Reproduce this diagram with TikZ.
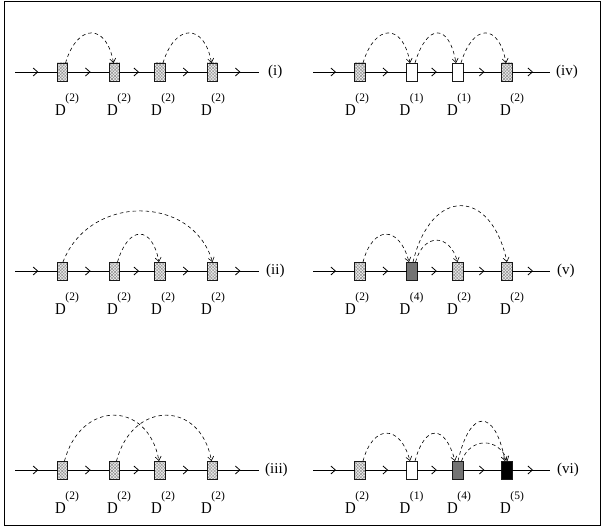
\documentclass[tikz,border=0pt]{standalone}
\usepackage{fontspec}
\setmainfont{Liberation Serif}
\usetikzlibrary{arrows.meta,decorations.markings,patterns,patterns.meta}

\newcommand\supfont{\fontsize{11.5}{11.5}\selectfont}
\newcommand\dfont{\fontsize{16.5}{16.5}\selectfont}
\newcommand\lfont{\fontsize{15}{15}\selectfont}

\tikzset{
  x=1pt, y=-1pt,
  boxbase/.style={draw=black!90, line width=0.7pt, minimum width=10.5pt, minimum height=18pt, inner sep=0pt, outer sep=0pt},
  boxH/.style={boxbase,
    preaction={fill=gray!15},
    preaction={pattern={Lines[angle=45,distance=2.2pt,line width=0.4pt]}, pattern color=gray!90},
    pattern={Lines[angle=-45,distance=2.2pt,line width=0.4pt]}, pattern color=gray!90},
  boxW/.style={boxbase, fill=white},
  boxG/.style={boxbase, fill=black!55},
  boxK/.style={boxbase, fill=black},
  dlab/.style={anchor=base west, inner sep=0pt, font=\dfont},
  plab/.style={anchor=west, inner sep=0pt, font=\lfont},
  mline/.style={line width=0.8pt, postaction={decorate},
    decoration={markings, mark=at position 0.55 with {\arrow{Straight Barb[length=4.5pt,width=8pt,line width=0.8pt]}}}},
  darc/.style={line width=0.6pt, dash pattern=on 3.5pt off 3pt,
    -{Straight Barb[length=4pt,width=6pt,line width=0.6pt]}}
}

% name, style, box x, line y, superscript, D centre x
\newcommand\dbox[6]{%
  \node[#2] (#1) at (#3,#4) {};
  \node[dlab] (#1L) at (#6-6,#4+43.3) {\scalebox{0.9}[1]{D}\kern-0.5pt\raisebox{13.5pt}{\supfont(#5)}};
}
% prefix, line y, start x, end x
\newcommand\mline[4]{%
  \coordinate (#1S) at (#3,#2);
  \coordinate (#1E) at (#4,#2);
  \draw[mline] (#1S) -- (#11);
  \draw[mline] (#11) -- (#12);
  \draw[mline] (#12) -- (#13);
  \draw[mline] (#13) -- (#14);
  \draw[mline] (#14) -- (#1E);
}

\begin{document}
\begin{tikzpicture}
\useasboundingbox (0,0) rectangle (602,527);
\node[draw, line width=0.8pt, minimum width=596pt, minimum height=524pt, inner sep=0pt, outer sep=0pt] (frame) at (302,263) {};

% ---------- (i)
\dbox{a1}{boxH}{62.5}{72}{2}{61}
\dbox{a2}{boxH}{114.5}{72}{2}{113}
\dbox{a3}{boxH}{160}{72}{2}{157}
\dbox{a4}{boxH}{212.5}{72}{2}{207}
\mline{a}{72}{15}{259}
\node[plab] (la) at (268,72) {(i)};
\draw[darc] ([xshift=3pt]a1.north) .. controls +(12,-40) and +(-7,-40) .. ([xshift=-1pt]a2.north);
\draw[darc] ([xshift=3pt]a3.north) .. controls +(12,-40) and +(-7,-40) .. ([xshift=-1pt]a4.north);

% ---------- (ii)
\dbox{b1}{boxH}{62.5}{271}{2}{61}
\dbox{b2}{boxH}{114.5}{271}{2}{113}
\dbox{b3}{boxH}{160}{271}{2}{157}
\dbox{b4}{boxH}{212.5}{271}{2}{207}
\mline{b}{271}{15}{259}
\node[plab] (lb) at (266,271) {(ii)};
\draw[darc] ([xshift=0.5pt]b1.north) .. controls +(26,-68) and +(-20,-68) .. (b4.north);
\draw[darc] ([xshift=3pt]b2.north) .. controls +(11,-37) and +(-7,-37) .. ([xshift=-1pt]b3.north);

% ---------- (iii)
\dbox{c1}{boxH}{62.5}{470}{2}{61}
\dbox{c2}{boxH}{114.5}{470}{2}{113}
\dbox{c3}{boxH}{160}{470}{2}{157}
\dbox{c4}{boxH}{212.5}{470}{2}{207}
\mline{c}{470}{15}{259}
\node[plab] (lc) at (265,470) {(iii)};
\draw[darc] ([xshift=2pt]c1.north) .. controls +(16,-61) and +(-11,-61) .. ([xshift=-1pt]c3.north);
\draw[darc] ([xshift=2pt]c2.north) .. controls +(16,-61) and +(-11,-61) .. ([xshift=-1pt]c4.north);

% ---------- (iv)
\dbox{d1}{boxH}{360}{72}{2}{351}
\dbox{d2}{boxW}{412}{72}{1}{405.5}
\dbox{d3}{boxW}{458}{72}{1}{453}
\dbox{d4}{boxH}{507}{72}{2}{506}
\mline{d}{72}{313}{550}
\node[plab] (ld) at (556,72) {(iv)};
\draw[darc] ([xshift=3pt]d1.north) .. controls +(12,-40) and +(-7,-40) .. ([xshift=-2pt]d2.north);
\draw[darc] ([xshift=3pt]d2.north) .. controls +(12,-40) and +(-7,-40) .. ([xshift=-2pt]d3.north);
\draw[darc] ([xshift=3pt]d3.north) .. controls +(12,-40) and +(-7,-40) .. ([xshift=-1pt]d4.north);

% ---------- (v)
\dbox{e1}{boxH}{360}{271}{2}{351}
\dbox{e2}{boxG}{412}{271}{4}{405.5}
\dbox{e3}{boxH}{458}{271}{2}{453}
\dbox{e4}{boxH}{507}{271}{2}{506}
\mline{e}{271}{313}{550}
\node[plab] (le) at (557,271) {(v)};
\draw[darc] ([xshift=3pt]e1.north) .. controls +(10,-37) and +(-10,-37) .. ([xshift=-3pt]e2.north);
\draw[darc] ([xshift=3.5pt]e2.north) .. controls +(8,-29) and +(-8,-29) .. ([xshift=-0.5pt]e3.north);
\draw[darc] ([xshift=1pt]e2.north) .. controls +(18,-75) and +(-16,-75) .. (e4.north);

% ---------- (vi)
\dbox{f1}{boxH}{360}{470}{2}{351}
\dbox{f2}{boxW}{412}{470}{1}{405.5}
\dbox{f3}{boxG}{458}{470}{4}{453}
\dbox{f4}{boxK}{507}{470}{5}{506}
\mline{f}{470}{313}{550}
\node[plab] (lf) at (557,470) {(vi)};
\draw[darc] ([xshift=3pt]f1.north) .. controls +(10,-37) and +(-10,-37) .. ([xshift=-2pt]f2.north);
\draw[darc] ([xshift=3pt]f2.north) .. controls +(10,-37) and +(-10,-37) .. ([xshift=-3pt]f3.north);
\draw[darc] (f3.north) .. controls +(12,-53) and +(-10,-53) .. ([xshift=-2pt]f4.north);
\draw[darc] ([xshift=3.5pt]f3.north) .. controls +(9,-24) and +(-9,-24) .. ([xshift=0.5pt]f4.north);
\end{tikzpicture}
\end{document}
